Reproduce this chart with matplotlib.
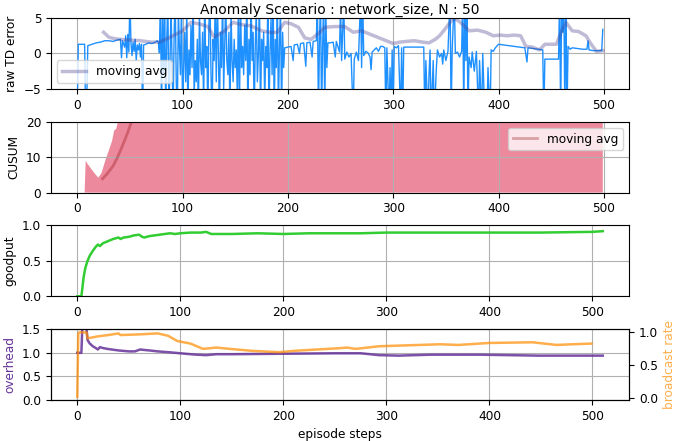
import matplotlib
matplotlib.use("Agg")
import matplotlib.pyplot as plt

plt.rcParams['font.size'] = 8.7

# raw TD error (values beyond +-5 are clipped by the axis)
td_step = [0, 1, 7, 8, 9, 10, 14, 18, 22, 26, 30, 34, 38, 41,
           42, 43, 45, 46, 47, 48, 49, 50, 51, 52, 53, 54, 55, 56, 57, 58, 59, 60, 61, 62, 63, 65, 68, 71, 74, 76, 77, 78,
           79, 80, 81, 82, 83, 84, 85, 86, 87, 88, 89, 90, 91, 92, 93, 94, 95, 96, 97, 98, 99,
           100, 101, 102, 103, 104, 105, 106, 107, 108, 109, 110, 111, 112, 113, 114, 115, 116, 117, 118, 119,
           120, 121, 122, 123, 124, 125, 126, 127, 128, 129, 130, 131, 132, 133, 134, 135, 136, 137, 138, 139,
           140, 141, 142, 143, 144, 145, 146, 147, 148, 149, 150, 151, 152, 153, 154, 155, 156, 157, 158, 159,
           160, 161, 162, 163, 164, 165, 166, 167, 168, 169, 170, 171, 172, 173, 174, 175, 176, 177, 178, 179,
           180, 181, 182, 183, 184, 185, 186, 187, 188, 189, 190, 191, 192, 193, 194, 195, 196, 197,
           200, 203, 205, 206, 209, 211, 212, 215, 217, 218, 221, 223, 224, 227,
           228, 229, 230, 231, 232, 233, 234, 235, 236, 237, 238, 240, 243, 245, 246, 249,
           250, 251, 252, 253, 254, 256, 258, 260, 262, 263, 265, 267, 269, 270, 271, 272, 274, 276, 278, 279,
           280, 282, 284, 286, 288, 290, 292, 293, 294, 296, 297, 298, 299, 300, 301, 303, 305, 307, 308, 309,
           310, 313, 316, 320, 325, 329, 330, 331, 333, 334, 335, 336, 338, 339, 341, 342, 344, 346, 347, 348,
           350, 352, 354, 355, 356, 358, 359, 361, 363, 365, 366, 367, 368, 369, 370, 371, 372, 374, 375, 377,
           379, 381, 382, 384, 385, 387, 389, 390, 392, 393, 395, 397, 400, 405, 410, 415, 420, 425, 427, 428,
           433, 438, 442, 443, 444, 450, 457, 458, 459, 460, 461, 462, 463, 464, 465, 466, 468, 470, 475, 480,
           484, 485, 486, 490, 495, 498, 499]
td_err = [-8, 1.3, 1.3, -9, -7, 1.1, 1.3, 1.5, 1.6, 1.8, 1.8, 1.7, 1.9, 2.0,
          -0.6, 1.8, 0.9, 2.5, -0.6, 2.7, 0.2, 8, 1.5, -0.3, 1.6, 0.3, 2.0, -1, 1.2, 0.5, 1.4, -0.5, 1.3, -9, 1.2, 1.3, 1.5, 1.4, 1.6, 1.8, 1.6, 0.1,
          8, -9, 6, -3, 8, -9, 2, 8, -8, -2, 7, -1, -9, 3, 8, -4, -9, 6, 1, -3, 8,
          -9, -2, 3, -4, 7, -9, 0.5, -3, 4, -2, 8, -6, -1, -4, 2, -9, 6, -1, -3, 3,
          -8, 8, -2, 1, -9, 4, 8, -3, -9, 2, -1, 7, -4, 8, 0, -9, 3, -2, 8, -5,
          1, 8, -1, -3, 3, -9, 6, -1, -4, 2, -2, 0.5, -6, 7, -9, 8, -2, 1, -3, 4,
          -1, 8, -9, 2, -3, 8, -1, 3, -9, 1, 6, -4, 0, 8, -9, 2, -1, 3, -7, 1,
          -2, 8, -9, 0, 5, -3, 8, -9, 2, -2, 8, -8, 1, 7, -9, 3, -2, 0.8,
          0.9, 1.0, -1.0, 1.2, 1.3, 0.0, 1.4, 1.5, -1.8, 1.5, 1.6, -0.5, 1.7, 1.8,
          8, -9, 2, 8, -9, 1, 8, -9, 6, -2, 1.5, 1.5, 1.6, -0.5, 1.7, 0.2,
          7, -1, 3, 8, -0.8, 0.2, -0.5, 0.0, -9, -0.8, 0.2, -1, 8, -2, 8, -0.3, 0.3, 0.1, -0.5, -2.3,
          0.2, 0.5, 0.8, 0.3, 1.0, 1.0, 0.8, -9, 0.8, -9, -2, -9, 0.5, -8, 1.0, 0.8, 1.1, -9, 0.8, -9,
          0.9, 0.9, 0.9, 0.9, 0.9, 0.9, -9, -1, -9, -3, 0.5, -9, -1, -9, -2, 0.5, -0.5, 0.0, -1.5, 0.5,
          -1, 0.3, 8, -9, 0.5, 8, 0.0, 0.2, -0.5, 0.3, 8, -9, 8, -1, 8, -9, -0.5, -2, 0.2, -2.5,
          0.3, -9, -1, -9, 0.0, -9, -9, -2, -9, 0.5, 0.3, 0.8, 1.3, 1.2, 1.1, 1.0, 0.9, 0.8, -1.2, 0.8,
          0.7, 0.6, 0.5, -9, -0.8, -0.8, -0.8, 8, -9, 8, 3, 8, -9, 8, -9, 1.0, 0.6, 0.8, 0.7, 0.6,
          0.6, 1.8, 0.5, 0.4, 0.4, 0.4, 3.4]

td_avg_step = [25, 30, 35, 40, 50, 60, 70, 78, 87, 100, 108, 115, 124, 130, 140, 148, 155, 165, 175,
               184, 190, 197, 203, 210, 216, 222, 230, 235, 244, 254, 262, 270, 280, 290, 300, 306, 312,
               320, 328, 334, 340, 344, 350, 357, 362, 366, 372, 380, 388, 395, 402, 408, 415, 421, 426,
               432, 439, 444, 450, 455, 460, 464, 470, 476, 483, 488, 493, 499]
td_avg = [3.0, 2.3, 2.1, 2.0, 1.9, 1.8, 1.6, 1.6, 2.2, 3.2, 4.4, 4.2, 3.8, 2.3, 3.2, 4.4, 4.1, 3.9, 3.2,
          2.95, 3.0, 4.4, 4.2, 3.7, 2.2, 2.0, 2.95, 3.7, 3.8, 3.8, 3.0, 3.2, 2.6, 2.0, 1.4, 1.6, 1.7,
          1.8, 1.6, 1.5, 2.0, 2.5, 3.6, 5.0, 4.6, 4.1, 3.2, 3.3, 3.0, 2.5, 2.6, 2.5, 2.6, 2.5, 1.0,
          0.9, 0.5, 1.3, 1.3, 1.3, 3.2, 4.4, 3.2, 3.1, 2.5, 1.3, 0.3, 0.4]

# CUSUM
cusum_step = [0, 7, 8, 10, 13, 16, 20, 23, 27, 30, 33, 35, 37, 39, 42, 50, 100, 200, 300, 400, 499]
cusum = [0, 0, 9.0, 8.0, 6.8, 5.6, 4.2, 5.5, 9.4, 11.9, 14.5, 17.5, 18.0, 20.5, 24, 35, 90, 200, 310, 420, 530]
cusum_avg_step = [24, 28, 34, 38, 43, 48, 52, 60, 100, 200, 300, 400, 499]
cusum_avg = [3.9, 5.2, 7.5, 9.8, 13.3, 17.0, 20.5, 28, 70, 170, 280, 390, 500]

# goodput
gp_step = [0, 4, 5, 6, 7, 8, 10, 12, 15, 18, 20, 22, 25, 30, 35, 40, 42, 45, 50, 55, 60, 63, 65, 70, 75,
           80, 85, 90, 95, 100, 110, 120, 125, 130, 140, 150, 175, 200, 225, 250, 275, 300, 350, 400, 450,
           500, 510]
goodput = [0, 0, 0.12, 0.25, 0.34, 0.41, 0.5, 0.57, 0.64, 0.70, 0.73, 0.71, 0.75, 0.78, 0.81, 0.83, 0.81,
           0.83, 0.84, 0.86, 0.87, 0.84, 0.83, 0.85, 0.86, 0.87, 0.88, 0.89, 0.88, 0.89, 0.9, 0.9, 0.91,
           0.88, 0.88, 0.88, 0.89, 0.88, 0.89, 0.89, 0.89, 0.9, 0.9, 0.9, 0.9, 0.91, 0.92]

# overhead / broadcast rate
oh_step = [0, 4, 5, 7, 9, 10, 12, 15, 18, 20, 22, 25, 30, 40, 50, 56, 61, 65, 70, 78, 90, 100, 110, 116,
           125, 135, 150, 200, 250, 275, 293, 312, 343, 391, 448, 480, 510]
overhead = [1.0, 1.0, 1.6, 1.6, 1.5, 1.27, 1.2, 1.14, 1.1, 1.07, 1.12, 1.1, 1.08, 1.05, 1.03, 1.03, 1.07,
            1.06, 1.05, 1.03, 1.01, 0.99, 0.97, 0.96, 0.95, 0.97, 0.97, 0.98, 0.99, 0.99, 0.95, 0.94,
            0.96, 0.96, 0.94, 0.94, 0.94]
bc_step = [0, 1, 2, 9, 10, 20, 30, 40, 42, 60, 78, 88, 97, 110, 122, 135, 148, 170, 196, 210, 254, 262,
           270, 293, 352, 370, 400, 442, 465, 480, 499]
bc_rate = [0.023, 0.98, 1.0, 1.0, 0.91, 0.94, 0.96, 0.985, 0.96, 0.97, 0.985, 0.95, 0.87, 0.83, 0.75,
           0.77, 0.75, 0.72, 0.70, 0.72, 0.76, 0.77, 0.75, 0.79, 0.82, 0.81, 0.84, 0.85, 0.81, 0.82, 0.83]

fig, axs = plt.subplots(4, 1, figsize=(6.89, 4.41), dpi=100)
fig.subplots_adjust(left=0.074, right=0.913, top=0.959, bottom=0.093, hspace=0.465)

ax = axs[0]
ax.plot(td_step, td_err, color='dodgerblue', lw=1)
ax.plot(td_avg_step, td_avg, color='darkslateblue', alpha=0.35, lw=2.5, label='moving avg')
ax.set_ylim(-5, 5)
ax.set_ylabel('raw TD error')
ax.set_title('Anomaly Scenario : network_size, N : 50', fontsize=10, pad=3)
ax.legend(loc='lower left')
ax.grid(True)

ax = axs[1]
ax.fill_between(cusum_step, cusum, color='crimson', alpha=0.5, lw=0)
ax.plot(cusum_avg_step, cusum_avg, color='darkred', alpha=0.3, lw=2, label='moving avg')
ax.set_ylim(0, 20)
ax.set_ylabel('CUSUM')
ax.legend(loc='upper right')
ax.grid(True)

ax = axs[2]
ax.plot(gp_step, goodput, color='limegreen', lw=1.8)
ax.set_ylim(0, 1)
ax.set_ylabel('goodput')
ax.grid(True)

ax = axs[3]
ax.plot(oh_step, overhead, color='rebeccapurple', alpha=0.85, lw=1.8)
ax.set_ylim(0, 1.5)
ax.set_yticks([0.0, 0.5, 1.0, 1.5])
ax.set_ylabel('overhead', color='rebeccapurple')
ax.set_xlabel('episode steps')
ax.grid(True)
ax2 = ax.twinx()
ax2.plot(bc_step, bc_rate, color='darkorange', alpha=0.7, lw=1.8)
ax2.set_yticks([0.0, 0.5, 1.0])
ax2.set_ylabel('broadcast rate', color='darkorange', alpha=0.7)

fig.savefig('out.png')
